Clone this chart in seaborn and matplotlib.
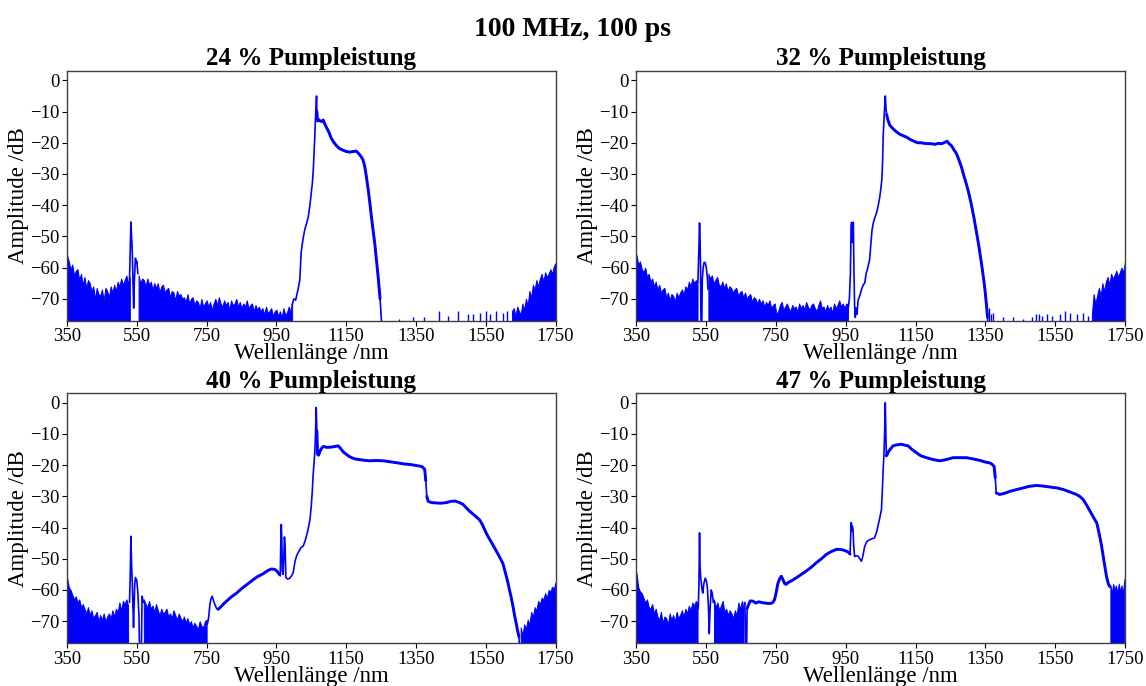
import numpy as np
import pandas as pd
import matplotlib
matplotlib.use("Agg")
import matplotlib.pyplot as plt
import seaborn as sns

# ------------------------------------------------------------------
# Spectra of the supercontinuum source (100 MHz, 100 ps) at four pump
# power levels.  Noise-floor readings are sampled every STEP nm from the
# given start wavelength; traces are (wavelength nm, amplitude dB) pairs.
# ------------------------------------------------------------------
STEP = 5

titles = ["24 % Pumpleistung", "32 % Pumpleistung",
          "40 % Pumpleistung", "47 % Pumpleistung"]
x_ticks = [350, 550, 750, 950, 1150, 1350, 1550, 1750]
y_ticks = [0, -10, -20, -30, -40, -50, -60, -70]

# ---------- 24 % ----------
floor24_a = [-56, -58, -60.5, -59, -62.5, -61, -60.5, -64, -62, -65.5,
             -63, -66.5, -64, -65, -67.5, -66, -70, -66.5, -68.5, -69,
             -67, -70.5, -66.5, -67.5, -69.5, -66, -68, -65.5, -67.5, -64.5,
             -66, -63.5, -65.5, -64, -62.5, -65, -63]                  # from 350 nm
floor24_b = [-62.5, -65, -63.5, -64, -66, -63.5, -65.5, -64.5, -67, -65,
             -66.5, -65, -68, -66, -65.5, -68, -67, -66.5, -69.5, -67.5,
             -68, -70.5, -67.5, -69, -68.5, -70, -69.5, -71, -68.5, -71.5,
             -70, -69.5, -72, -70.5, -71, -73, -70, -72.5, -71.5, -70.5,
             -72.5, -71, -73.5, -71.5, -70, -72, -69.5, -71.5, -72.5, -70.5,
             -72, -71, -73.5, -70.5, -72, -71.5, -70, -72.5, -71, -73,
             -71.5, -72.5, -70.5, -73, -72, -71.5, -74, -72, -73.5, -72.5,
             -74, -73, -75, -72.5, -74.5, -74, -73, -75.5, -74, -73.5,
             -75.5, -74, -76, -73, -75, -74.5, -72.5, -74, -71]       # from 555 nm
floor24_c = [-74, -73, -75.5, -72.5, -74, -75, -71.5, -73.5, -70, -72,
             -67.5, -69.5, -65.5, -67, -64, -66, -63.5, -62, -64.5, -61.5,
             -63, -62, -60.5, -62, -59.5, -58.5]                       # from 1625 nm
hairs24_nm = [1300, 1340, 1372, 1415, 1442, 1470, 1500, 1512, 1532, 1550,
              1562, 1580, 1600, 1612]
hairs24_db = [-76.5, -76, -76, -74, -75.5, -74, -75, -75, -74.5, -74,
              -75, -74, -74.5, -74]
trace24_a = [(529, -64), (531, -55), (533, -45.4), (535, -50), (537, -55),
             (539, -65), (541, -73), (543, -64), (546, -57), (548, -58.5),
             (550, -58), (553, -62)]
trace24_b = [(995, -72), (1000, -70), (1005, -70.5), (1008, -69), (1012, -67),
             (1017, -64), (1021, -55), (1026, -51), (1031, -48), (1036, -46),
             (1041, -44), (1046, -40), (1050, -36), (1053, -33), (1056, -28),
             (1058, -23), (1060, -18), (1062, -12), (1064, -7), (1065, -5),
             (1066, -10), (1068, -13), (1070, -12.5), (1075, -13), (1080, -13.2),
             (1084, -12.7), (1088, -13.8), (1093, -15), (1100, -16.5), (1107, -18.5),
             (1114, -19.8), (1121, -20.8), (1130, -21.8), (1141, -22.4), (1150, -22.8),
             (1160, -23), (1170, -22.8), (1179, -22.7), (1186, -23.5), (1193, -24.5),
             (1198, -25.5), (1203, -27.5), (1208, -31), (1213, -35), (1218, -39.5),
             (1222, -43.5), (1227, -48), (1232, -52.5), (1237, -58), (1242, -63.5),
             (1247, -70), (1251, -77), (1253, -80)]

# ---------- 32 % ----------
floor32_a = [-56, -59, -58, -60.5, -61.5, -60, -63, -62, -64.5, -63.5,
             -66, -64.5, -67, -65.5, -68, -67, -66.5, -69.5, -68, -70.5,
             -68.5, -69, -71, -68, -69.5, -68, -67, -68.5, -66, -67,
             -64.5, -66, -63.5, -65, -64, -65.5]                        # from 350 nm
floor32_b = [-62, -63.5, -62.5, -65, -64, -63, -65.5, -66, -64.5, -66.5,
             -65, -67.5, -66, -66.5, -68, -67, -66.5, -69, -68, -67.5,
             -69.5, -68, -70, -69, -68.5, -71, -69.5, -70, -71.5, -70,
             -71.5, -70.5, -72.5, -71, -72, -70.5, -73, -72, -71.5, -75,
             -74, -72, -71, -73.5, -72.5, -71.5, -73, -74, -72, -73,
             -72.5, -74, -71.5, -73, -72, -73.5, -71, -72.5, -73.5, -72,
             -71.5, -73, -74, -72, -70.5, -73, -72.5, -74, -72, -73.5,
             -72.5, -74.5, -71.5, -73, -72, -70.5, -72.5, -71.5, -73, -71.5,
             -72]                                                       # from 556 nm
floor32_c = [-75, -68.5, -71.5, -69, -66.5, -69, -65, -67.5, -64.5, -63,
             -65.5, -62, -63.5, -62.5, -61, -63, -61.5, -60, -61.5, -58]   # from 1655 nm
hairs32_nm = [1360, 1366, 1372, 1401, 1430, 1458, 1482, 1496, 1503, 1511,
              1525, 1540, 1563, 1578, 1592, 1611, 1630, 1645]
hairs32_db = [-73, -75, -74.5, -76, -76, -76.5, -76, -75, -74.8, -75.5,
              -75, -75.5, -75, -74, -74.5, -75, -74.5, -75.5]
trace32_a = [(526, -65), (528.5, -55), (530.7, -45.7), (532, -50), (533.5, -60),
             (535, -80), (537, -80), (538.5, -64), (541, -60), (544, -58.3),
             (547, -58.5), (550, -60), (553, -63), (555, -67)]
trace32_b = [(957, -73), (960, -70), (963, -62), (965, -47), (966.5, -45.5),
             (968, -52), (970, -46), (971.5, -45.5), (973, -60), (975, -72),
             (977, -76), (979, -73), (982, -75), (985, -70.5), (990, -69),
             (995, -67), (1000, -65.5), (1004, -65), (1008, -62), (1013, -60),
             (1018, -57.5), (1022, -52), (1025, -48), (1028, -46), (1033, -44),
             (1038, -42.5), (1043, -40), (1047, -37.5), (1050, -35), (1053, -32),
             (1055, -27), (1057, -18), (1059, -13), (1061, -9), (1063, -5),
             (1065, -9), (1067, -11), (1070, -12.5), (1076, -14.4), (1085, -15.5),
             (1095, -16.5), (1105, -17.3), (1115, -17.8), (1124, -18.2), (1135, -19),
             (1145, -19.5), (1155, -20), (1165, -20), (1175, -20.2), (1185, -20.3),
             (1195, -20.3), (1205, -20.5), (1215, -20.2), (1225, -20.3), (1235, -19.8),
             (1240, -19.5), (1245, -20.2), (1253, -21), (1260, -22.3), (1267, -23.5),
             (1274, -25.5), (1281, -27.7), (1288, -30.5), (1296, -33.5), (1303, -36.5),
             (1310, -40), (1317, -44), (1324, -48.5), (1331, -53), (1339, -59),
             (1344, -63), (1348, -66.5), (1353, -72), (1356, -76), (1358, -80)]

# ---------- 40 % ----------
floor40_a = [-56, -59, -60, -61.5, -63, -62, -64, -63, -65.5, -64.5,
             -66, -67.5, -65.5, -68, -66.5, -69, -68, -67, -70, -68,
             -69.5, -67.5, -70, -68.5, -67.5, -69, -66.5, -68.5, -66, -67,
             -64, -66.5, -63.5, -64.5, -63, -65]                        # from 350 nm
floor40_b = [-63, -64.5, -65.5, -63.5, -66, -65, -67, -64.5, -66.5, -68,
             -66, -67.5, -67, -66, -68.5, -67.5, -69, -66.5, -68, -69.5,
             -67.5, -69, -70, -68.5, -70.5, -69, -71, -70, -72, -70.5,
             -71.5, -72.5, -70, -71.5, -72, -70, -69.5]                 # from 570 nm
floor40_c = [-72, -74.5, -71, -72.5, -69.5, -71, -67, -68.5, -65.5, -66.5,
             -63.5, -64.5, -62.5, -63, -61, -62.5, -60, -60.5, -59, -59.5,
             -57.5]                                                     # from 1650 nm
trace40_a = [(529, -64), (531, -56), (533, -42.8), (535, -52), (537, -58),
             (539, -66), (540.5, -72), (542, -66), (544, -58), (546, -56),
             (550, -57), (553, -61), (556, -68), (558, -80), (563, -80),
             (565, -62), (567, -63), (569, -64)]
trace40_b = [(752, -71), (755, -69.5), (757, -67.5), (759, -65), (762, -63),
             (766, -62), (770, -63.5), (774, -64.8), (779, -66), (783, -66.2),
             (790, -65.5), (800, -64.3), (807, -63.6), (820, -62.3), (836, -61),
             (850, -59.6), (865, -58.3), (880, -57), (895, -55.8), (912, -54.8),
             (925, -53.8), (935, -53.3), (945, -53.4), (952, -54), (958, -55),
             (961, -55.5), (962.5, -45), (964, -39), (965.5, -44), (967, -54),
             (969, -55), (971, -50), (973, -43), (975, -46), (977, -56),
             (982, -56.5), (988, -56.3), (993, -55.5), (998, -54.5), (1003, -51),
             (1008, -49), (1015, -47.5), (1020, -46.5), (1027, -45.9), (1033, -44),
             (1040, -41), (1046, -37.5), (1050, -33), (1053, -28), (1055, -23.5),
             (1058, -19), (1060, -16), (1062, -10), (1064, -1.5), (1066, -9),
             (1068, -16.5), (1071, -16.8), (1075, -15.5), (1080, -14.5), (1085, -14),
             (1095, -14.3), (1108, -14.2), (1118, -14), (1127, -13.8), (1135, -14.8),
             (1142, -15.8), (1150, -16.5), (1160, -17.3), (1170, -17.8), (1180, -18.1),
             (1200, -18.4), (1217, -18.6), (1235, -18.5), (1256, -18.6), (1275, -18.9),
             (1294, -19.2), (1315, -19.6), (1335, -19.8), (1350, -20.1), (1361, -20.3),
             (1368, -20.5), (1375, -21.4), (1378, -25), (1381, -30), (1385, -31.6),
             (1395, -32), (1408, -32.1), (1420, -32.2), (1437, -32), (1450, -31.6),
             (1462, -31.5), (1475, -32), (1485, -32.6), (1495, -33.8), (1504, -34.8),
             (1515, -35.8), (1525, -36.8), (1532, -37.5), (1540, -39), (1548, -41),
             (1556, -42.8), (1565, -44.5), (1575, -46.5), (1585, -48.5), (1592, -50),
             (1599, -51.5), (1605, -54), (1612, -57), (1618, -60), (1623, -62.5),
             (1628, -65.3), (1633, -68.5), (1637, -70.6), (1641, -73), (1645, -75),
             (1647, -80)]

# ---------- 47 % ----------
floor47_a = [-54.5, -59, -60.5, -61, -62.5, -64, -63, -65.5, -66, -64.5,
             -67.5, -66, -68.5, -69.5, -67, -70.5, -68.5, -69, -71, -67.5,
             -69.5, -68, -70, -67, -69, -68, -66.5, -68.5, -66, -67.5,
             -65, -66.5, -64, -65, -63.5, -64.5]                        # from 350 nm
floor47_b = [-63, -65.5, -64, -66.5, -65, -63.5, -67, -66, -68, -66.5,
             -67.5, -69, -66.5, -68, -64, -66, -63.5, -67]              # from 572 nm
floor47_c = [-58.5, -61, -58, -60, -58.5, -61, -58, -60.5, -58.5, -61,
             -56.5]                                                     # from 1708 nm (4 nm spacing)
trace47_a = [(527, -66), (529, -58), (530.7, -41.7), (532, -52), (534, -56),
             (536, -58), (538, -60), (540, -61), (543, -58), (547, -56.2),
             (550, -57), (553, -59), (556, -65), (558.5, -74), (561, -66),
             (564, -60), (567, -61), (570, -64)]
trace47_b = [(658, -66), (660, -64), (662, -70), (664, -80), (665.5, -80),
             (667, -66), (670, -65), (676, -63.5), (684, -63.6), (692, -64.2),
             (700, -63.8), (712, -64.1), (725, -64.3), (735, -64.3), (741, -64),
             (746, -63), (750, -61), (755, -58), (760, -56.5), (765, -55.6),
             (770, -56.8), (775, -58), (779, -58.2), (785, -57.6), (795, -57),
             (808, -56.1), (820, -55.2), (837, -53.9), (850, -52.8), (865, -51.3),
             (880, -50), (894, -48.6), (908, -47.7), (923, -47), (935, -47),
             (945, -47.3), (952, -47.6), (958, -48), (962, -48.5), (964, -42),
             (965.5, -38.4), (967, -41), (968.5, -39.5), (970.5, -40.6), (972.5, -46),
             (975, -49.3), (980, -49), (985, -49.2), (990, -50), (994.5, -50.8),
             (998, -49.5), (1004, -46), (1010, -44.5), (1020, -43.8), (1032, -43.3),
             (1038, -41.5), (1042, -39.5), (1047, -37), (1052, -34.2), (1055, -27),
             (1057, -21), (1059, -17), (1061, -10), (1063, 0), (1064.5, -9),
             (1066, -17), (1069, -16.5), (1073, -15.5), (1078, -14.8), (1085, -13.8),
             (1095, -13.5), (1109, -13.3), (1120, -13.6), (1128, -13.8), (1140, -15),
             (1152, -16), (1165, -17), (1181, -17.6), (1200, -18.2), (1219, -18.6),
             (1238, -18.2), (1257, -17.6), (1275, -17.6), (1296, -17.6), (1315, -18),
             (1335, -18.5), (1350, -19), (1363, -19.3), (1370, -19.8), (1375, -20.5),
             (1378, -24), (1381, -28.9), (1391, -29.4), (1405, -29), (1420, -28.4),
             (1440, -27.8), (1458, -27.3), (1475, -26.8), (1496, -26.5), (1515, -26.7),
             (1535, -27), (1555, -27.3), (1573, -27.8), (1590, -28.5), (1611, -29.4),
             (1620, -30), (1630, -31), (1640, -32.8), (1650, -34.8), (1660, -36.8),
             (1669, -38.5), (1676, -42), (1683, -46), (1690, -51), (1697, -55.7),
             (1702, -58), (1707, -59)]

BLUE = "#0000ff"
BOTTOM = -80

panels = [
    dict(floors=[(350, STEP, floor24_a), (555, STEP, floor24_b), (1625, STEP, floor24_c)],
         hairs=(hairs24_nm, hairs24_db), traces=[trace24_a, trace24_b],
         noisy=[(1066, 1250)]),
    dict(floors=[(350, STEP, floor32_a), (556, STEP, floor32_b), (1655, STEP, floor32_c)],
         hairs=(hairs32_nm, hairs32_db), traces=[trace32_a, trace32_b],
         noisy=[(1066, 1356)]),
    dict(floors=[(350, STEP, floor40_a), (570, STEP, floor40_b), (1650, STEP, floor40_c)],
         hairs=None, traces=[trace40_a, trace40_b],
         noisy=[(1066, 1378), (1381, 1645), (783, 960)]),
    dict(floors=[(350, STEP, floor47_a), (572, STEP, floor47_b), (1708, 4, floor47_c)],
         hairs=None, traces=[trace47_a, trace47_b],
         noisy=[(1066, 1378), (1381, 1707), (667, 962)]),
]

sns.set_theme(style="ticks")
plt.rcParams["font.family"] = ["Liberation Serif", "DejaVu Serif"]
plt.rcParams.update({
    "axes.edgecolor": "#404040",
    "axes.linewidth": 1.0,
    "text.color": "black",
    "axes.labelcolor": "black",
    "xtick.color": "black",
    "ytick.color": "black",
})

fig, axes = plt.subplots(2, 2, figsize=(11.46, 6.86), dpi=100)
fig.subplots_adjust(left=0.0585, right=0.9817, top=0.8965, bottom=0.0627,
                    wspace=0.1656, hspace=0.292)

for ax, title, spec in zip(axes.flat, titles, panels):
    for start, step, vals in spec["floors"]:
        x = start + step * np.arange(len(vals))
        ax.fill_between(x, vals, BOTTOM, color=BLUE, lw=0.7)
    if spec["hairs"] is not None:
        ax.vlines(spec["hairs"][0], BOTTOM, spec["hairs"][1], color=BLUE, lw=1.0)
    for tr in spec["traces"]:
        df = pd.DataFrame(tr, columns=["nm", "db"])
        sns.lineplot(data=df, x="nm", y="db", ax=ax, color=BLUE, lw=1.2,
                     estimator=None, sort=False)
        for lo, hi in spec["noisy"]:
            sub = df[(df["nm"] >= lo) & (df["nm"] <= hi)]
            if len(sub) > 1:
                sns.lineplot(data=sub, x="nm", y="db", ax=ax, color=BLUE, lw=2.1,
                             estimator=None, sort=False)

    ax.set_xlim(350, 1750)
    ax.set_ylim(-77, 3)
    ax.set_xticks(x_ticks)
    ax.set_yticks(y_ticks)
    ax.tick_params(labelsize=13.5, length=3.5, width=0.8, pad=2)
    ax.set_xlabel("Wellenlänge /nm", fontsize=16.5, labelpad=-1.5)
    ax.set_ylabel("Amplitude /dB", fontsize=16.5, labelpad=1)
    ax.set_title(title, fontsize=18, fontweight="bold", pad=4)

fig.suptitle("100 MHz, 100 ps", fontsize=20, fontweight="bold", y=0.975)
fig.savefig("out.png", dpi=100)
